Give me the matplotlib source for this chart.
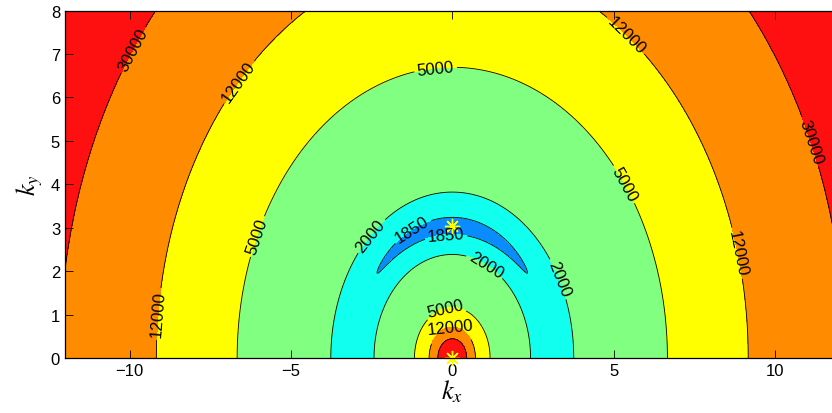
import numpy as np
import matplotlib
matplotlib.use("Agg")
import matplotlib.pyplot as plt

# contour crossings: |k| and the level crossed there
k_read = np.array([0.435, 0.72, 1.17, 2.46, 2.85, 3.31, 3.84, 6.58, 9.15, 12.3])
f_read = np.array([30000, 12000, 5000, 2000, 1850, 1850, 2000, 5000, 12000, 30000])
w_read = np.array([1, 1, 1, 2, 4, 4, 2, 1, 1, 1])

levels = [1850, 2000, 5000, 12000, 30000]
colors = ['#0a8cff', '#10ffee', '#80ff80', '#ffff00', '#ff8c00', '#ff1010']

# where the labels sit
label_pos = [(-9.9, 7.1), (11.0, 4.96),
             (-6.5, 6.3), (-8.87, 1.0), (5.3, 7.37), (8.66, 2.39), (-0.05, 0.6),
             (-5.93, 2.77), (-0.5, 6.53), (4.94, 3.84), (-0.2, 1.1),
             (-2.58, 2.85), (1.08, 2.2), (3.3, 1.82),
             (-1.29, 3.0), (-0.2, 2.86)]

# angle where the 1850 crescent closes (deg from kx axis)
tip_angle = 40.0

# fit R(k) = c1 k^4 + c2 k^2 + c3 + c4/k^2 to the crossings (relative error)
A = np.vstack([k_read**4, k_read**2, np.ones_like(k_read), 1/k_read**2]).T
coef, *_ = np.linalg.lstsq(A * (w_read / f_read)[:, None], w_read.astype(float), rcond=None)

def R(k2):
    return coef[0]*k2**2 + coef[1]*k2 + coef[2] + coef[3]/k2

kk = np.linspace(0.05, 14, 20000)
Rk = R(kk**2)
kmin = kk[Rk.argmin()]
eps = (1850/Rk.min() - 1)/np.cos(np.radians(tip_angle))**2

kx = np.linspace(-12, 12, 961)
ky = np.linspace(0, 8, 481)
KX, KY = np.meshgrid(kx, ky)
K2 = KX**2 + KY**2
K2[K2 == 0] = 1e-6
Z = np.clip(R(K2) * (1 + eps*KX**2/K2), 0, 1e6)

plt.rcParams['font.family'] = 'Liberation Sans'
plt.rcParams['mathtext.fontset'] = 'stix'

fig = plt.figure(figsize=(8.32, 4.14), dpi=100)
ax = fig.add_axes([0.0781, 0.1329, 0.931, 0.839])
ax.contourf(KX, KY, Z, levels=[0] + levels + [1e7], colors=colors)
cs = ax.contour(KX, KY, Z, levels=levels, colors='k', linewidths=0.6)
ax.clabel(cs, fontsize=12, fmt='%d', manual=label_pos, inline_spacing=3)
ax.plot([0, 0], [kmin, 0], ls='none', marker=(8, 2, 0), ms=11, mew=1.0,
        color='yellow', clip_on=False)

ax.set_xlim(-12, 12)
ax.set_ylim(0, 8)
ax.set_xticks([-10, -5, 0, 5, 10])
ax.set_yticks(range(9))
ax.tick_params(direction='in', length=5.5, width=0.6, labelsize=12,
               top=True, right=True)
for s in ax.spines.values():
    s.set_linewidth(0.9)
ax.set_xlabel('$k_x$', fontsize=19, labelpad=0)
ax.set_ylabel('$k_y$', fontsize=19, labelpad=4)
fig.savefig("out.png")
